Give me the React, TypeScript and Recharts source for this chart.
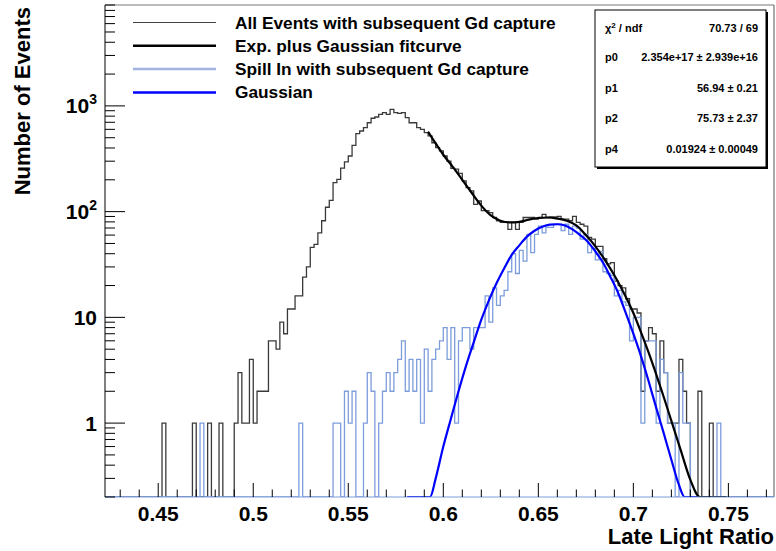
import { ComposedChart, Line, XAxis, YAxis, ReferenceLine } from "recharts";

const FONT = "'Liberation Sans', Arial, Helvetica, sans-serif";

// histogram binning (Late Light Ratio)
const X_MIN = 0.422;
const X_MAX = 0.774;
const BIN_W = 0.002;
const Y_MIN = 0.2;
const Y_MAX = 9000;

// All Events with subsequent Gd capture, 176 bins from 0.422
const allEvents = [
  0, 0, 0, 0, 0, 0, 0, 0, 0, 0,
  0, 0, 0, 0, 0, 1, 0, 0, 0, 0,
  0, 0, 0, 1, 0, 0, 0, 1, 0, 0,
  1, 0, 0, 0, 1, 3, 1, 1, 4, 1,
  2, 2, 2, 6, 6, 5, 9, 7, 12, 12,
  16, 16, 24, 30, 46, 49, 63, 82, 110, 128,
  188, 202, 258, 295, 336, 424, 546, 579, 622, 693,
  764, 785, 833, 862, 833, 929, 862, 850, 862, 774,
  693, 693, 622, 600, 558, 520, 448, 403, 375, 336,
  300, 257, 252, 230, 195, 169, 157, 117, 126, 102,
  102, 98, 88, 82, 79, 79, 68, 79, 68, 79,
  88, 88, 88, 85, 88, 94, 88, 89, 89, 90,
  85, 85, 82, 90, 79, 76, 73, 57, 55, 47,
  47, 36, 32, 33, 22, 20, 19, 15, 12, 12,
  11, 2, 6, 8, 7, 2, 6, 3, 1, 1,
  1, 4, 2, 1, 0, 0, 2, 0, 0, 1,
  0, 0, 0, 0, 0, 0, 0, 0, 0, 0,
  0, 0, 0, 0, 0, 0,
];

// Spill In with subsequent Gd capture, same bins
const spillIn = [
  0, 0, 0, 0, 0, 0, 0, 0, 0, 0,
  0, 0, 0, 0, 0, 0, 0, 0, 0, 0,
  0, 0, 0, 0, 0, 1, 0, 0, 0, 0,
  0, 0, 0, 0, 0, 0, 0, 0, 0, 0,
  0, 0, 0, 0, 0, 0, 0, 0, 0, 0,
  0, 1, 0, 0, 0, 0, 0, 0, 0, 0,
  1, 1, 0, 2, 1, 2, 0, 0, 1, 3,
  2, 0, 1, 2, 3, 2, 3, 4, 6, 2,
  4, 2, 4, 1, 5, 2, 4, 5, 6, 8,
  4, 8, 1, 6, 8, 8, 5, 8, 8, 8,
  16, 9, 19, 13, 16, 18, 27, 40, 26, 43,
  34, 61, 41, 61, 73, 63, 71, 71, 76, 76,
  66, 76, 61, 73, 70, 55, 61, 41, 45, 35,
  42, 27, 26, 25, 16, 18, 14, 13, 6, 10,
  10, 1, 6, 6, 6, 1, 4, 3, 1, 1,
  0, 3, 1, 1, 0, 0, 0, 0, 0, 0,
  0, 1, 0, 0, 0, 0, 0, 0, 0, 0,
  0, 0, 0, 0, 0, 0,
];

// Exp. plus Gaussian fitcurve
const fitX = [0.592, 0.595, 0.6, 0.605, 0.61, 0.615, 0.62, 0.625, 0.63, 0.635, 0.64, 0.645, 0.65, 0.655, 0.66, 0.665, 0.67, 0.675, 0.68, 0.685, 0.69, 0.695, 0.7, 0.705, 0.71, 0.715, 0.72, 0.725, 0.73, 0.735, 0.749];
const fitY = [570, 470, 345, 265, 200, 150, 114, 92, 82, 79, 80, 84, 87, 88, 86, 82, 74, 60, 47, 35, 25, 17, 11, 6.5, 3.7, 2.0, 1.05, 0.55, 0.29, 0.2, 0.2];

// Gaussian component
const gausX = [0.581, 0.593, 0.596, 0.6, 0.604, 0.608, 0.612, 0.616, 0.62, 0.624, 0.628, 0.632, 0.636, 0.64, 0.644, 0.648, 0.652, 0.656, 0.66, 0.664, 0.668, 0.672, 0.676, 0.68, 0.684, 0.688, 0.692, 0.696, 0.7, 0.704, 0.708, 0.712, 0.716, 0.72, 0.724, 0.727, 0.7355];
const gausY = [0.2, 0.2, 0.3, 0.6, 1.1, 2.0, 3.5, 5.8, 9.5, 14.5, 21, 29, 39, 48, 58, 66, 72, 75.5, 76, 74, 68, 60, 52, 42, 33, 24, 17, 11, 7, 4.3, 2.5, 1.4, 0.8, 0.45, 0.26, 0.2, 0.2];

const xTicks = [0.43, 0.44, 0.45, 0.46, 0.47, 0.48, 0.49, 0.5, 0.51, 0.52, 0.53, 0.54, 0.55, 0.56, 0.57, 0.58, 0.59, 0.6, 0.61, 0.62, 0.63, 0.64, 0.65, 0.66, 0.67, 0.68, 0.69, 0.7, 0.71, 0.72, 0.73, 0.74, 0.75, 0.76, 0.77];
const xLabelValues = [0.45, 0.5, 0.55, 0.6, 0.65, 0.7, 0.75];
const xLabelText = ["0.45", "0.5", "0.55", "0.6", "0.65", "0.7", "0.75"];

const yTicks = [0.2, 0.3, 0.4, 0.5, 0.6, 0.7, 0.8, 0.9, 1, 2, 3, 4, 5, 6, 7, 8, 9, 10, 20, 30, 40, 50, 60, 70, 80, 90, 100, 200, 300, 400, 500, 600, 700, 800, 900, 1000, 2000, 3000, 4000, 5000, 6000, 7000, 8000, 9000];
const yLabelValues = [1, 10, 100, 1000];
const yLabelBase = ["1", "10", "10", "10"];
const yLabelExp = ["", "", "2", "3"];

const legendNames = [
  "All Events with subsequent Gd capture",
  "Exp. plus Gaussian fitcurve",
  "Spill In with subsequent Gd capture",
  "Gaussian",
];
const legendColors = ["#444444", "#000000", "#a2b5e2", "#0000ff"];
const legendWidths = [1.2, 2.5, 2.5, 2.5];

const statNames = ["p0", "p1", "p2", "p4"];
const statValues = ["2.354e+17 \u00b1 2.939e+16", "56.94 \u00b1 0.21", "75.73 \u00b1 2.37", "0.01924 \u00b1 0.00049"];

const toSteps = (vals: number[]) => {
  const pts = vals.map((v, i) => ({ x: +(X_MIN + i * BIN_W).toFixed(4), y: Math.max(v, Y_MIN) }));
  pts.push({ x: X_MAX, y: Math.max(vals[vals.length - 1], Y_MIN) });
  return pts;
};

const allPts = toSteps(allEvents);
const spillPts = toSteps(spillIn);
const fitPts = fitX.map((x, i) => ({ x, y: fitY[i] }));
const gausPts = gausX.map((x, i) => ({ x, y: gausY[i] }));

const XTick = ({ x, y, payload }: any) => {
  const idx = xLabelValues.findIndex((v) => Math.abs(v - payload.value) < 1e-6);
  const major = idx >= 0;
  return (
    <g>
      <line x1={x} x2={x} y1={y} y2={y - (major ? 14 : 7.5)} stroke="#000" strokeWidth={1} />
      {major && (
        <text x={x} y={y + 24} textAnchor="middle" fontFamily={FONT} fontWeight="bold" fontSize={21} fill="#000">
          {xLabelText[idx]}
        </text>
      )}
    </g>
  );
};

const YTick = ({ x, y, payload }: any) => {
  const idx = yLabelValues.indexOf(payload.value);
  const major = idx >= 0;
  return (
    <g>
      <line x1={x} x2={x + (major ? 20 : 10)} y1={y} y2={y} stroke="#000" strokeWidth={1} />
      {major && (
        <text x={x - 8} y={y} dy="0.36em" textAnchor="end" fontFamily={FONT} fontWeight="bold" fontSize={21} fill="#000">
          {yLabelBase[idx]}
          {yLabelExp[idx] && (
            <tspan fontSize={14} dy={-9}>
              {yLabelExp[idx]}
            </tspan>
          )}
        </text>
      )}
    </g>
  );
};

export default function App() {
  return (
    <div style={{ position: "absolute", left: 0, top: 0, width: 776, height: 551, background: "#fff" }}>
      <ComposedChart width={776} height={551} margin={{ top: 5, right: 2, left: 0, bottom: 0 }}>
        <XAxis
          type="number"
          dataKey="x"
          domain={[X_MIN, X_MAX]}
          allowDataOverflow
          ticks={xTicks}
          interval={0}
          tick={<XTick />}
          tickLine={false}
          tickSize={0}
          tickMargin={0}
          height={54}
          axisLine={{ stroke: "#7d9ddb" }}
        />
        <YAxis
          type="number"
          dataKey="y"
          scale="log"
          domain={[Y_MIN, Y_MAX]}
          allowDataOverflow
          ticks={yTicks}
          interval={0}
          tick={<YTick />}
          tickLine={false}
          tickSize={0}
          tickMargin={0}
          width={105}
          axisLine={{ stroke: "#000" }}
        />
        <ReferenceLine y={Y_MAX} stroke="#777" strokeWidth={1} />
        <ReferenceLine x={X_MAX} stroke="#555" strokeWidth={1} />
        <Line data={allPts} dataKey="y" type="stepAfter" stroke="#3a3a3a" strokeWidth={1.3} dot={false} isAnimationActive={false} />
        <Line data={spillPts} dataKey="y" type="stepAfter" stroke="#7d9ddb" strokeWidth={1.3} dot={false} isAnimationActive={false} />
        <Line data={gausPts} dataKey="y" type="monotone" stroke="#0000ff" strokeWidth={2.2} dot={false} isAnimationActive={false} />
        <Line data={fitPts} dataKey="y" type="monotone" stroke="#000" strokeWidth={2.2} dot={false} isAnimationActive={false} />
      </ComposedChart>

      <svg width={776} height={551} style={{ position: "absolute", left: 0, top: 0, pointerEvents: "none" }}>
        {legendNames.map((name, i) => (
          <g key={name}>
            <line x1={133} x2={216} y1={22.5 + i * 23.3} y2={22.5 + i * 23.3} stroke={legendColors[i]} strokeWidth={legendWidths[i]} />
            <text x={235} y={28.5 + i * 23.3} fontFamily={FONT} fontWeight="bold" fontSize={17.3} fill="#000">
              {name}
            </text>
          </g>
        ))}

        <rect x={597} y={12} width={171} height={157} fill="#000" />
        <rect x={595} y={10} width={171} height={157} fill="#fff" stroke="#000" strokeWidth={1} />
        <text x={605} y={32} fontFamily={FONT} fontWeight="bold" fontSize={11} fill="#000">
          {"\u03c7"}
          <tspan fontSize={8} dy={-4}>2</tspan>
          <tspan dy={4}>{" / ndf"}</tspan>
        </text>
        <text x={758} y={32} textAnchor="end" fontFamily={FONT} fontWeight="bold" fontSize={11} fill="#000">
          70.73 / 69
        </text>
        {statNames.map((n, i) => (
          <g key={n}>
            <text x={605} y={61 + i * 30.5} fontFamily={FONT} fontWeight="bold" fontSize={11} fill="#000">
              {n}
            </text>
            <text x={758} y={61 + i * 30.5} textAnchor="end" fontFamily={FONT} fontWeight="bold" fontSize={11} fill="#000">
              {statValues[i]}
            </text>
          </g>
        ))}

        <text x={774} y={544} textAnchor="end" fontFamily={FONT} fontWeight="bold" fontSize={22} fill="#000">
          Late Light Ratio
        </text>
        <text transform="translate(30,7) rotate(-90)" textAnchor="end" fontFamily={FONT} fontWeight="bold" fontSize={22} fill="#000">
          Number of Events
        </text>
      </svg>
    </div>
  );
}
